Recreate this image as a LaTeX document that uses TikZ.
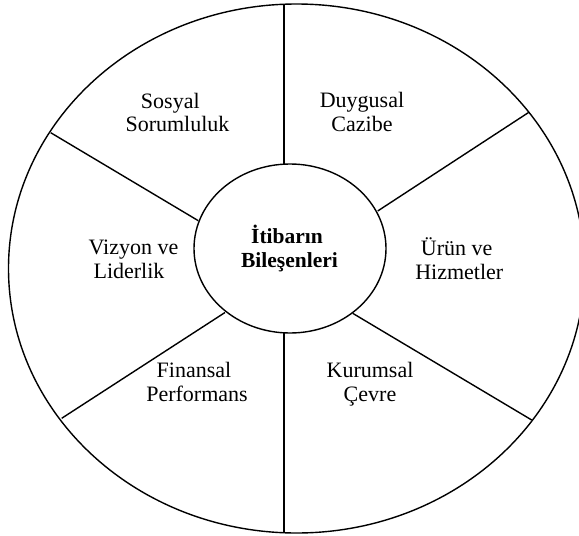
\documentclass[tikz,border=0pt]{standalone}
\usepackage{fontspec}
\setmainfont{Liberation Serif}
\usetikzlibrary{shapes.geometric}
\begin{document}
\begin{tikzpicture}[x=1pt,y=-1pt,
  ring/.style={draw, ellipse, line width=1.4pt, inner sep=0pt, outer sep=0pt},
  spoke/.style={line width=1.4pt},
  lbl/.style={anchor=base, inner sep=0pt, font=\fontsize{22}{24}\selectfont},
  core lbl/.style={anchor=base, inner sep=0pt, font=\fontsize{21.5}{24}\selectfont\bfseries}]
\useasboundingbox (0,0) rectangle (579,536);
\clip (0,0) rectangle (579,536);
\node[ring, minimum width=576pt, minimum height=529pt] (outer) at (296.5,268.5) {};
\node[ring, minimum width=192pt, minimum height=169pt] (core) at (290,248.5) {};
% end points of the spokes
\coordinate (iT) at (284,164.5);
\coordinate (oT) at (284,4);
\coordinate (iB) at (284,332.5);
\coordinate (oB) at (284,533);
\coordinate (iUL) at (198.3,220.7);
\coordinate (oUL) at (50.7,132.7);
\coordinate (iUR) at (377.7,211);
\coordinate (oUR) at (529.3,112);
\coordinate (iLL) at (225,312.5);
\coordinate (oLL) at (61.7,418.3);
\coordinate (iLR) at (352.7,313.3);
\coordinate (oLR) at (531.7,420);
\draw[spoke] (iT) -- (oT);
\draw[spoke] (iB) -- (oB);
\draw[spoke] (iUL) -- (oUL);
\draw[spoke] (iUR) -- (oUR);
\draw[spoke] (iLL) -- (oLL);
\draw[spoke] (iLR) -- (oLR);
% labels
\node[core lbl] (c1) at (287,243.3) {İtibarın};
\node[core lbl] (c2) at (289.5,267.7) {Bileşenleri};
\node[lbl] (s1) at (170.3,108.3) {Sosyal};
\node[lbl] (s2) at (177.5,131.7) {Sorumluluk};
\node[lbl] (d1) at (362,107.5) {Duygusal};
\node[lbl] (d2) at (362,131) {Cazibe};
\node[lbl] (v1) at (133.5,254) {Vizyon ve};
\node[lbl] (v2) at (129,278.3) {Liderlik};
\node[lbl] (u1) at (456.7,255) {Ürün ve};
\node[lbl] (u2) at (459.3,279.3) {Hizmetler};
\node[lbl] (f1) at (194,377.3) {Finansal};
\node[lbl] (f2) at (197,401.7) {Performans};
\node[lbl] (k1) at (370,377.3) {Kurumsal};
\node[lbl] (k2) at (370,401.7) {Çevre};
\end{tikzpicture}
\end{document}
